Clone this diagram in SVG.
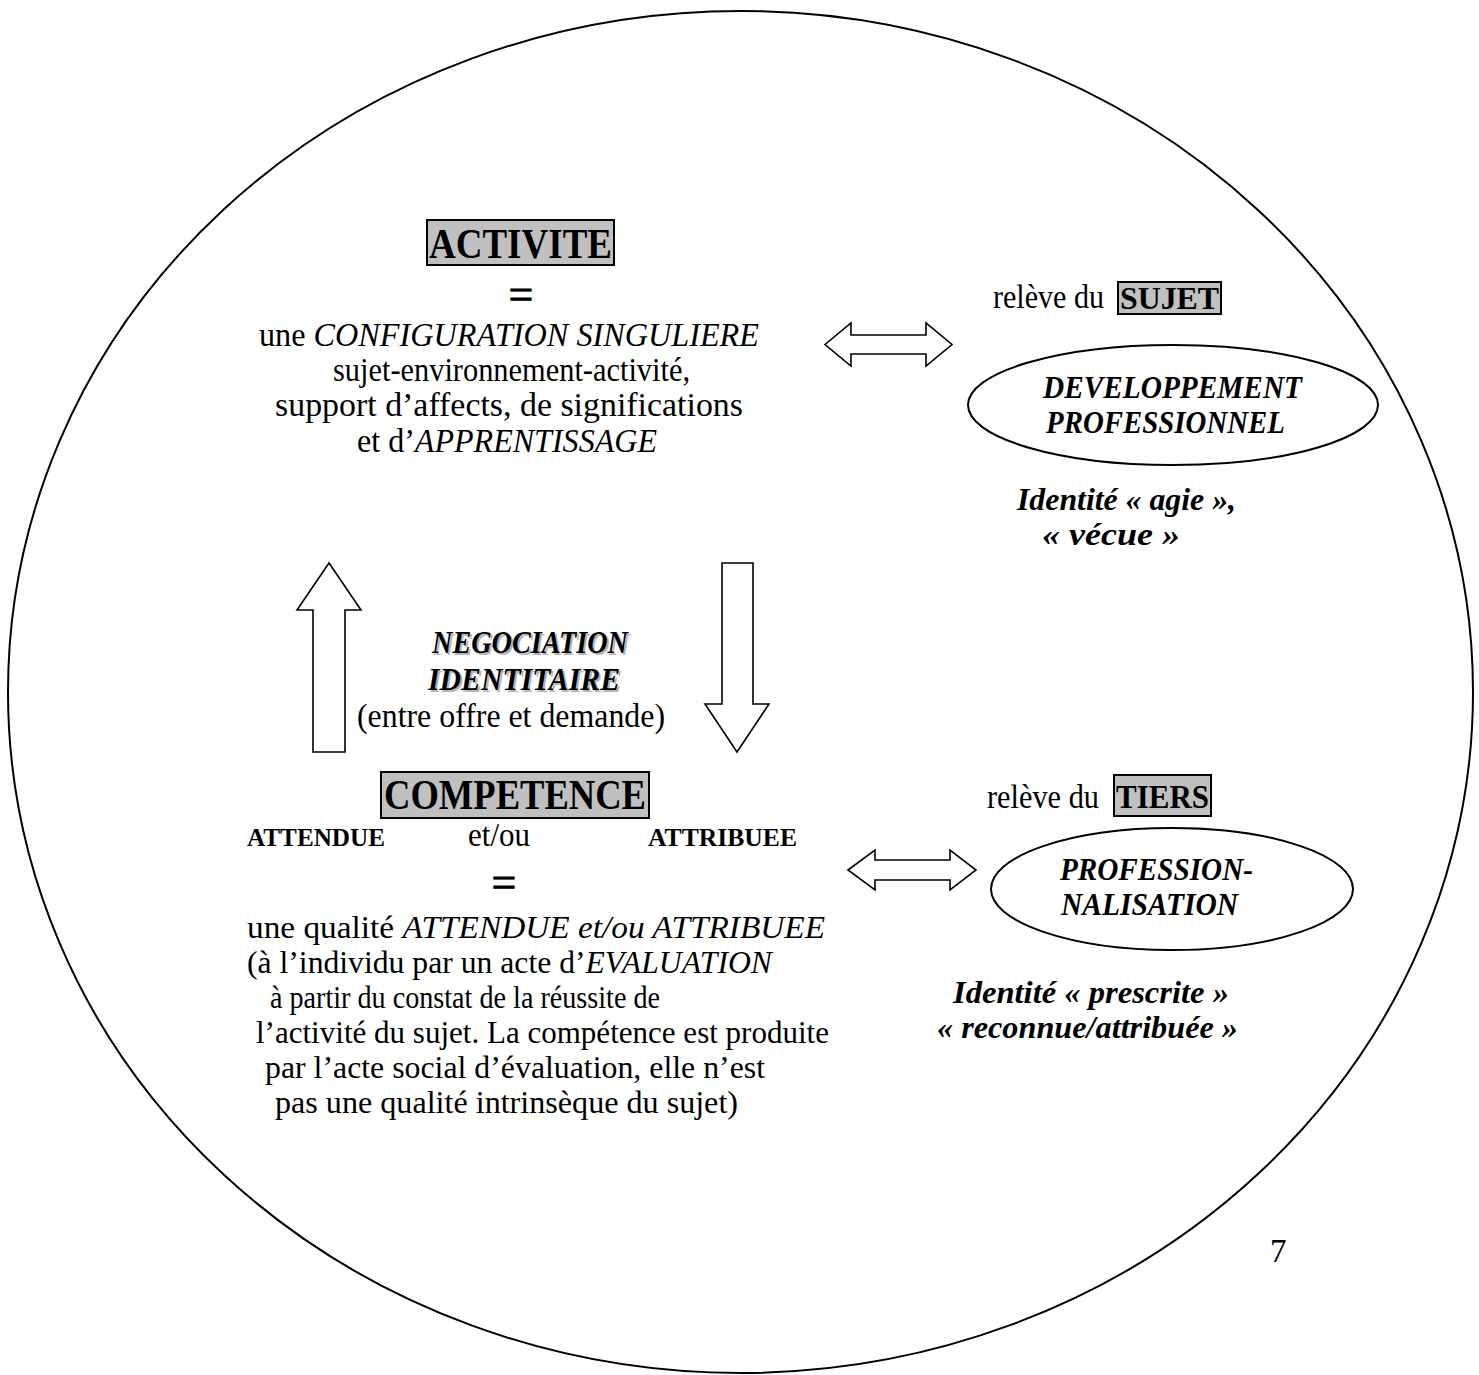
<svg xmlns="http://www.w3.org/2000/svg" width="1479" height="1375" viewBox="0 0 1479 1375">
<style>
text{font-family:"Liberation Serif","Times New Roman",serif;fill:#000}
.r{font-size:33px}
.rl{font-size:32px}
.i{font-style:italic}
.b{font-weight:bold}
.bi{font-weight:bold;font-style:italic;font-size:31px}
.eq{font-size:44px;stroke:#000;stroke-width:0.8}
.box{fill:#c0c0c0;stroke:#000;stroke-width:2}
.arr{fill:#fff;stroke:#000;stroke-width:1.6;stroke-linejoin:miter}
.sh{fill:#b4b4b4}
</style>
<rect width="1479" height="1375" fill="#fff"/>
<g id="frame">
<ellipse cx="740.5" cy="692" rx="732.5" ry="681" fill="none" stroke="#000" stroke-width="2"/>
</g>
<g id="connectors">
<polygon class="arr" points="329,563 361,610 345,610 345,752 313,752 313,610 297,610"/>
<polygon class="arr" points="722,563 753,563 753,704 769,704 737,752 705,704 722,704"/>
<polygon class="arr" points="825,344.5 851,323 851,335 926,335 926,323 952,344.5 926,366 926,354 851,354 851,366"/>
<polygon class="arr" points="848,870 875,850 875,860 950,860 950,850 976,870 950,890 950,880 875,880 875,890"/>
</g>
<g id="activite">
<rect class="box" x="427" y="220" width="187" height="45"/>
<text class="b" x="429" y="258" font-size="42" textLength="183" lengthAdjust="spacingAndGlyphs">ACTIVITE</text>
<text class="eq" x="521" y="309" text-anchor="middle">=</text>
<text class="r" x="259" y="346" textLength="500" lengthAdjust="spacingAndGlyphs">une <tspan class="i">CONFIGURATION SINGULIERE</tspan></text>
<text class="r" x="333" y="381" textLength="357" lengthAdjust="spacingAndGlyphs">sujet-environnement-activité,</text>
<text class="r" x="275" y="416" textLength="468" lengthAdjust="spacingAndGlyphs">support d’affects, de significations</text>
<text class="r" x="357" y="452" textLength="300" lengthAdjust="spacingAndGlyphs">et d’<tspan class="i">APPRENTISSAGE</tspan></text>
</g>
<g id="sujet">
<text class="r" x="993" y="308" textLength="111" lengthAdjust="spacingAndGlyphs">relève du</text>
<rect class="box" x="1118" y="282" width="103" height="32"/>
<text class="b" x="1120" y="309" font-size="32" textLength="99" lengthAdjust="spacingAndGlyphs">SUJET</text>
</g>
<g id="developpement">
<ellipse cx="1173" cy="405" rx="205" ry="60" fill="#fff" stroke="#000" stroke-width="2"/>
<text class="bi" x="1043" y="398" textLength="259" lengthAdjust="spacingAndGlyphs">DEVELOPPEMENT</text>
<text class="bi" x="1046" y="433" textLength="239" lengthAdjust="spacingAndGlyphs">PROFESSIONNEL</text>
</g>
<g id="identite-agie">
<text class="bi" x="1017" y="510" textLength="219" lengthAdjust="spacingAndGlyphs">Identité « agie »,</text>
<text class="bi" x="1042" y="545" textLength="138" lengthAdjust="spacingAndGlyphs">« vécue »</text>
</g>
<g id="negociation">
<text class="bi sh" x="434" y="655" textLength="196" lengthAdjust="spacingAndGlyphs">NEGOCIATION</text>
<text class="bi sh" x="430" y="692" textLength="192" lengthAdjust="spacingAndGlyphs">IDENTITAIRE</text>
<text class="bi" x="432" y="653" textLength="196" lengthAdjust="spacingAndGlyphs">NEGOCIATION</text>
<text class="bi" x="428" y="690" textLength="192" lengthAdjust="spacingAndGlyphs">IDENTITAIRE</text>
<text class="r" x="357" y="727" textLength="308" lengthAdjust="spacingAndGlyphs">(entre offre et demande)</text>
</g>
<g id="competence">
<rect class="box" x="381" y="772" width="268" height="46"/>
<text class="b" x="384" y="809" font-size="43" textLength="262" lengthAdjust="spacingAndGlyphs">COMPETENCE</text>
<text class="b" x="247" y="846" font-size="25" textLength="138" lengthAdjust="spacingAndGlyphs">ATTENDUE</text>
<text class="r" x="468" y="846" textLength="62" lengthAdjust="spacingAndGlyphs">et/ou</text>
<text class="b" x="648" y="846" font-size="25" textLength="149" lengthAdjust="spacingAndGlyphs">ATTRIBUEE</text>
<text class="eq" x="504" y="897" text-anchor="middle">=</text>
<text class="rl" x="247" y="938" textLength="578" lengthAdjust="spacingAndGlyphs">une qualité <tspan class="i">ATTENDUE et/ou ATTRIBUEE</tspan></text>
<text class="rl" x="247" y="973" textLength="525" lengthAdjust="spacingAndGlyphs">(à l’individu par un acte d’<tspan class="i">EVALUATION</tspan></text>
<text class="rl" x="270" y="1008" textLength="390" lengthAdjust="spacingAndGlyphs">à partir du constat de la réussite de</text>
<text class="rl" x="256" y="1043" textLength="573" lengthAdjust="spacingAndGlyphs">l’activité du sujet. La compétence est produite</text>
<text class="rl" x="265" y="1078" textLength="500" lengthAdjust="spacingAndGlyphs">par l’acte social d’évaluation, elle n’est</text>
<text class="rl" x="275" y="1113" textLength="463" lengthAdjust="spacingAndGlyphs">pas une qualité intrinsèque du sujet)</text>
</g>
<g id="tiers">
<text class="r" x="987" y="808" textLength="112" lengthAdjust="spacingAndGlyphs">relève du</text>
<rect class="box" x="1114" y="775" width="97" height="41"/>
<text class="b" x="1116" y="808" font-size="33" textLength="93" lengthAdjust="spacingAndGlyphs">TIERS</text>
</g>
<g id="professionnalisation">
<ellipse cx="1172" cy="889" rx="181" ry="61" fill="#fff" stroke="#000" stroke-width="2"/>
<text class="bi" x="1060" y="880" textLength="193" lengthAdjust="spacingAndGlyphs">PROFESSION-</text>
<text class="bi" x="1061" y="915" textLength="177" lengthAdjust="spacingAndGlyphs">NALISATION</text>
</g>
<g id="identite-prescrite">
<text class="bi" x="953" y="1003" textLength="276" lengthAdjust="spacingAndGlyphs">Identité « prescrite »</text>
<text class="bi" x="937" y="1038" textLength="301" lengthAdjust="spacingAndGlyphs">« reconnue/attribuée »</text>
</g>
<g id="page-number">
<text class="r" x="1270" y="1262" font-size="31">7</text>
</g>
</svg>
